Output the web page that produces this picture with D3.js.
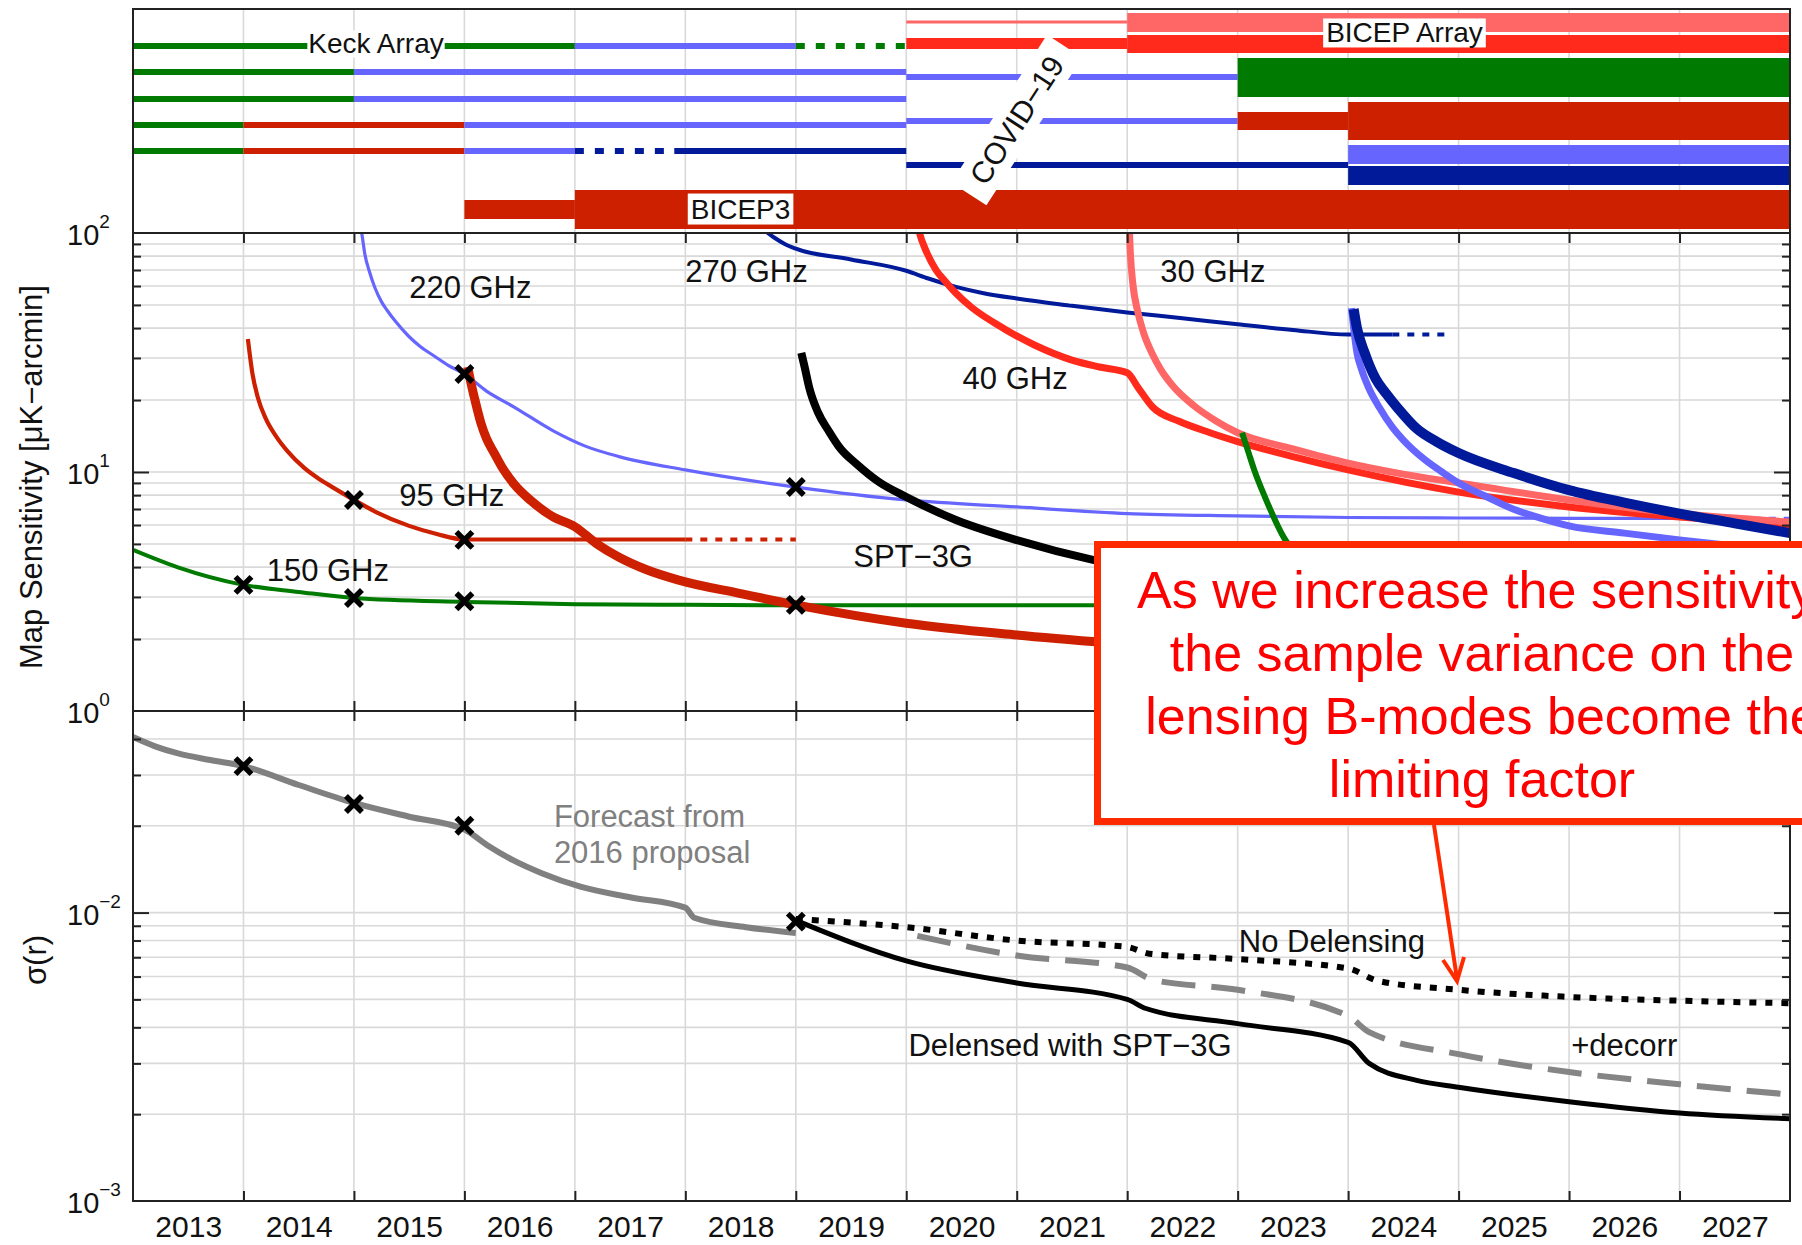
<!DOCTYPE html>
<html>
<head>
<meta charset="utf-8">
<script src="https://cdn.jsdelivr.net/npm/d3@7"></script>
<style>
  html, body { margin: 0; padding: 0; background: #fff; }
  svg { display: block; font-family: "Liberation Sans", Arial, Helvetica, sans-serif; }
</style>
</head>
<body>
<svg id="chart" width="1802" height="1245"></svg>
<script>
// ---------------------------------------------------------------------------
// Data
// ---------------------------------------------------------------------------
const yearLabels = ["2013","2014","2015","2016","2017","2018","2019","2020",
                    "2021","2022","2023","2024","2025","2026","2027"];
const yearBoundaries = [2014,2015,2016,2017,2018,2019,2020,2021,2022,2023,2024,2025,2026,2027];

// Receiver timeline: [slot, band (GHz), start, end, planned?]
const receivers = [
  ["K0","150",2013,2017], ["K0","220",2017,2019], ["K0","150",2019,2020,true],
  ["K1","150",2013,2015], ["K1","220",2015,2020],
  ["K2","150",2013,2015], ["K2","220",2015,2020],
  ["K3","150",2013,2014], ["K3","95",2014,2016], ["K3","220",2016,2020],
  ["K4","150",2013,2014], ["K4","95",2014,2016], ["K4","220",2016,2017],
  ["K4","270",2017,2017.9,true], ["K4","270",2017.9,2020],
  ["K1b","220",2020,2023], ["K3b","220",2020,2023], ["K4b","270",2020,2024],
  ["BA1a","30",2020,2022], ["BA1b","40",2020,2022],
  ["BA1hi","30",2022,2028], ["BA1lo","40",2022,2028],
  ["BA2","150",2023,2028],
  ["BA3a","95",2023,2024], ["BA3","95",2024,2028],
  ["BA4hi","220",2024,2028], ["BA4lo","270",2024,2028],
  ["B3a","95",2016,2017], ["B3","95",2017,2028]
];

// Map sensitivity [μK-arcmin] vs year
const keck150 = [[2013,4.72],[2013.4,4.0],[2014,3.37],[2014.5,3.15],[2015,2.97],[2016,2.86],
                 [2017,2.8],[2018,2.78],[2019,2.77],[2020,2.77],[2021,2.77],[2022,2.77]];
const keck95 = [[2014.04,36],[2014.08,26],[2014.13,20.5],[2014.2,16.8],[2014.3,14],[2014.4,12.2],
                [2014.55,10.4],[2014.7,9.25],[2014.85,8.4],[2015,7.64],[2015.2,6.8],[2015.5,5.95],
                [2015.75,5.5],[2016,5.22],[2018,5.22]];
const keck95Planned = [[2018,5.22],[2019,5.22]];
const keck220 = [[2015.05,110],[2015.07,100],[2015.1,81],[2015.14,69],[2015.19,59],[2015.25,51.5],
                 [2015.3,47.5],[2015.37,43],[2015.5,36.8],[2015.6,33.5],[2015.73,30.5],[2015.85,28],
                 [2016,25.7],[2016.2,21.8],[2016.45,18.7],[2016.8,14.9],[2017.1,12.8],[2017.4,11.6],
                 [2018,10.2],[2019,8.65],[2020,7.64],[2021,7.14],[2022,6.7],[2023,6.55],[2024,6.45],
                 [2025,6.42],[2026,6.4],[2027,6.4],[2027.4,6.4]];
const keck220Planned = [[2027.4,6.4],[2028,6.4]];
const bicep3 = [[2016.03,27.5],[2016.06,23.5],[2016.09,20.5],[2016.15,16],[2016.2,13.8],[2016.27,12],
                [2016.35,10.3],[2016.45,8.9],[2016.6,7.6],[2016.8,6.5],[2017,5.9],[2017.2,5.0],
                [2017.4,4.4],[2017.65,3.9],[2017.94,3.53],[2018.5,3.1],[2019,2.78],[2020,2.33],
                [2021,2.08],[2022,1.9],[2023,1.75]];
const keck270 = [[2018.7,104],[2018.8,96],[2018.9,90],[2019,86],[2019.5,77.5],[2020,69.5],[2020.2,64.5],
                 [2020.45,59.5],[2020.7,56],[2021,53.2],[2021.5,49.6],[2022,46.5],[2022.5,44],
                 [2023,41.5],[2023.5,39.3],[2024,37.6],[2024.4,37.6]];
const keck270Planned = [[2024.4,37.6],[2024.9,37.6]];
const spt3g = [[2019.05,31.5],[2019.08,27.5],[2019.12,22.7],[2019.2,17.8],[2019.3,14.8],[2019.4,12.6],
               [2019.55,10.8],[2019.75,9.1],[2020,7.86],[2020.45,6.3],[2021,5.19],[2021.7,4.28],
               [2022.5,3.7],[2023,3.4]];
const ba40 = [[2020.1,110],[2020.12,100],[2020.18,84],[2020.27,70],[2020.35,63],[2020.45,56],[2020.6,48.5],
              [2020.8,42],[2021.16,34],[2021.5,29.4],[2021.75,27.5],[2022,26],[2022.1,22.5],[2022.23,18.7],
              [2022.47,16.3],[2022.75,14.6],[2023,13.4],[2023.5,11.6],[2024,10.2],[2025,8.24],[2026,7.14],
              [2027,6.48],[2028,6.0]];
const ba30 = [[2022.01,140],[2022.03,80],[2022.05,62],[2022.1,46],[2022.15,38],[2022.23,31],[2022.3,27],
              [2022.41,23],[2022.6,19],[2022.8,16.4],[2023,14.6],[2023.5,12.5],[2024,10.9],[2024.5,9.8],
              [2025,9.0],[2026,7.64],[2027,6.7],[2028,6.18]];
const ba150 = [[2023.04,14.6],[2023.1,12],[2023.15,10.2],[2023.25,7.8],[2023.42,5.3],[2023.55,4.4]];
const ba220 = [[2024.03,48.5],[2024.05,40],[2024.08,31.5],[2024.12,27],[2024.19,22.3],[2024.28,18.7],
               [2024.4,15.4],[2024.5,13.6],[2024.69,11.3],[2024.85,10],[2025,9.0],[2025.25,7.9],
               [2025.51,6.95],[2025.75,6.4],[2026,5.95],[2026.5,5.55],[2027,5.2],[2027.5,4.9]];
const ba270 = [[2024.05,48],[2024.08,40],[2024.15,31.5],[2024.25,24.5],[2024.34,21.4],[2024.45,18.5],
               [2024.62,15.2],[2024.8,13.4],[2025,12],[2025.5,9.9],[2026,8.4],[2026.5,7.45],[2027,6.7],
               [2027.5,6.1],[2028,5.55]];
const mapMarks = [[2014,3.37],[2015,2.97],[2016,2.88],[2015,7.64],[2016,5.2],[2016,25.7],[2019,8.65],[2019,2.78]];

// σ(r) vs year
const forecast = [[2013,0.0406],[2013.2,0.0377],[2013.4,0.0357],[2013.7,0.0338],[2014,0.0322],
                  [2014.5,0.0277],[2015,0.024],[2015.5,0.0215],[2016,0.0194],[2016.2,0.0172],
                  [2016.44,0.0152],[2016.7,0.0137],[2017.05,0.0123],[2017.5,0.0113],[2018,0.0104],
                  [2018.08,0.0096],[2018.55,0.0089],[2019,0.0085]];
const noDelensing = [[2019,0.0095],[2020,0.0089],[2021,0.0080],[2022,0.0076],[2022.2,0.0072],[2023,0.0069],
                     [2024,0.0064],[2024.27,0.0058],[2025,0.0054],[2026,0.0051],[2027,0.00495],[2028,0.00485]];
const delensedSPT = [[2019,0.0094],[2020,0.0068],[2021,0.0057],[2022,0.0050],[2022.17,0.00465],[2023,0.00412],
                     [2024,0.00355],[2024.19,0.0030],[2024.62,0.00262],[2025,0.00248],[2026,0.00221],
                     [2027,0.00202],[2028,0.00193]];
const decorr = [[2020.1,0.0083],[2021,0.0071],[2022,0.00645],[2022.23,0.00585],[2023,0.0054],[2024,0.00438],
                [2024.19,0.00385],[2025,0.00323],[2026,0.0028],[2027,0.00254],[2028,0.00234]];
const sigmaMarks = [[2014,0.0322],[2015,0.0238],[2016,0.0200],[2019,0.0093]];

// Axis tick values and labels
const mapDecades = [100, 10, 1];
const mapExponents = ["2", "1", "0"];
const mapMinor = [2,3,4,5,6,7,8,9,20,30,40,50,60,70,80,90];
const sigDecades = [0.01, 0.001];
const sigExponents = ["\u22122", "\u22123"];
const sigMinor = [0.002,0.003,0.004,0.005,0.006,0.007,0.008,0.009,0.02,0.03,0.04];

const calloutLines = ["As we increase the sensitivity,", "the sample variance on the",
                      "lensing B-modes become the", "limiting factor"];

// ---------------------------------------------------------------------------
// Layout and styles
// ---------------------------------------------------------------------------
const L = 133, R = 1790;
const TOP = 9, MID_TOP = 233, MID_BOT = 711, BOT_BOT = 1201;

const x = d3.scaleLinear().domain([2013, 2028]).range([L, R]);
const yTop = d3.scaleLinear().domain([0, 100]).range([TOP, MID_TOP]);
const yMap = d3.scaleLog().domain([1, 100]).range([MID_BOT, MID_TOP]);
const ySig = d3.scaleLog().domain([0.001, 0.05]).range([BOT_BOT, MID_BOT]);

const bandColor = { "30": "#ff6666", "40": "#ff2a1c", "95": "#cc2000",
                    "150": "#007a00", "220": "#6666ff", "270": "#001a99" };

// receiver slots in the timeline panel: [centre %, thickness %]
const slots = {
  K0: [16.5, 2.7], K1: [28.1, 2.7], K2: [40.2, 2.7], K3: [51.8, 2.7], K4: [63.4, 2.7],
  K1b: [30.4, 2.7], K3b: [50.0, 2.7], K4b: [69.6, 2.7],
  BA1a: [5.8, 1.3], BA1b: [15.4, 4.9],
  BA1hi: [6.05, 8.5], BA1lo: [15.6, 8.0],
  BA2: [30.6, 17.4],
  BA3a: [50.0, 8.0], BA3: [50.0, 17.0],
  BA4hi: [64.95, 8.5], BA4lo: [74.35, 8.5],
  B3a: [89.55, 8.5], B3: [89.5, 17.4]
};

const FONT = "Liberation Sans, Arial, Helvetica, sans-serif";
const svg = d3.select("#chart");

// ---------------------------------------------------------------------------
// Grid
// ---------------------------------------------------------------------------
const grid = svg.append("g").attr("stroke", "#d9d9d9").attr("stroke-width", 1.6);
grid.selectAll("line.v").data(yearBoundaries).join("line")
  .attr("x1", d => x(d)).attr("x2", d => x(d)).attr("y1", TOP).attr("y2", BOT_BOT);
grid.selectAll("line.hm").data(mapMinor.concat([10])).join("line")
  .attr("x1", L).attr("x2", R).attr("y1", d => yMap(d)).attr("y2", d => yMap(d));
grid.selectAll("line.hs").data(sigMinor.concat([0.01])).join("line")
  .attr("x1", L).attr("x2", R).attr("y1", d => ySig(d)).attr("y2", d => ySig(d));

// ---------------------------------------------------------------------------
// Receiver timeline
// ---------------------------------------------------------------------------
const tl = svg.append("g");
tl.selectAll("line").data(receivers).join("line")
  .attr("x1", d => x(d[2])).attr("x2", d => x(d[3]))
  .attr("y1", d => yTop(slots[d[0]][0])).attr("y2", d => yTop(slots[d[0]][0]))
  .attr("stroke", d => bandColor[d[1]])
  .attr("stroke-width", d => yTop(slots[d[0]][1]) - yTop(0))
  .attr("stroke-dasharray", d => d[4] ? "9,11" : null);

function boxedText(g, str, cx, cy, size, padX, padY) {
  const t = g.append("text").attr("x", cx).attr("y", cy)
    .attr("text-anchor", "middle").attr("dominant-baseline", "central")
    .attr("font-size", size).attr("fill", "#111").text(str);
  const bb = t.node().getBBox();
  g.insert("rect", () => t.node())
    .attr("x", bb.x - padX).attr("y", bb.y - padY)
    .attr("width", bb.width + 2 * padX).attr("height", bb.height + 2 * padY)
    .attr("fill", "#fff");
  return t;
}
boxedText(tl, "Keck Array", x(2015.2), yTop(15.6), 28, 1, -2);
boxedText(tl, "BICEP3", x(2018.5), yTop(89.3), 28, 3, 0);
boxedText(tl, "BICEP Array", x(2024.51), yTop(10.7), 28, 3, -1);

// pandemic marker
const cov = tl.append("g").attr("transform", `translate(${x(2021.0)},${yTop(49.6)}) rotate(-57)`);
cov.append("rect").attr("x", -88).attr("y", -21).attr("width", 176).attr("height", 42).attr("fill", "#fff");
cov.append("text").attr("text-anchor", "middle").attr("dominant-baseline", "central")
  .attr("font-size", 30).attr("fill", "#111").text("COVID\u221219");

// ---------------------------------------------------------------------------
// Map sensitivity panel
// ---------------------------------------------------------------------------
svg.append("clipPath").attr("id", "clipMap").append("rect")
  .attr("x", L).attr("y", MID_TOP).attr("width", R - L).attr("height", MID_BOT - MID_TOP);
svg.append("clipPath").attr("id", "clipSig").append("rect")
  .attr("x", L).attr("y", MID_BOT).attr("width", R - L).attr("height", BOT_BOT - MID_BOT);

const lineMap = d3.line().x(d => x(d[0])).y(d => yMap(d[1])).curve(d3.curveMonotoneX);
const lineSig = d3.line().x(d => x(d[0])).y(d => ySig(d[1])).curve(d3.curveMonotoneX);

const mapSeries = [
  [keck150, bandColor["150"], 4, null],
  [keck95, bandColor["95"], 4.2, null],
  [keck95Planned, bandColor["95"], 4.2, "7,8"],
  [keck220, bandColor["220"], 3.2, null],
  [keck220Planned, bandColor["220"], 3.2, "7,8"],
  [bicep3, bandColor["95"], 9, null],
  [keck270, bandColor["270"], 4, null],
  [keck270Planned, bandColor["270"], 4, "7,8"],
  [spt3g, "#000", 8, null],
  [ba40, bandColor["40"], 7, null],
  [ba30, bandColor["30"], 7, null],
  [ba150, bandColor["150"], 6, null],
  [ba220, bandColor["220"], 7, null],
  [ba270, bandColor["270"], 10, null]
];
const gMap = svg.append("g").attr("clip-path", "url(#clipMap)").attr("fill", "none");
gMap.selectAll("path").data(mapSeries).join("path")
  .attr("d", d => lineMap(d[0])).attr("stroke", d => d[1]).attr("stroke-width", d => d[2])
  .attr("stroke-dasharray", d => d[3]).attr("stroke-linejoin", "round");

const xMark = "M-8,-8L8,8M-8,8L8,-8";
svg.append("g").selectAll("path").data(mapMarks).join("path")
  .attr("transform", d => `translate(${x(d[0])},${yMap(d[1])})`)
  .attr("d", xMark).attr("stroke", "#000").attr("stroke-width", 5.5).attr("fill", "none");

const mapNotes = [["220 GHz", 2015.5, 59.4], ["270 GHz", 2018.0, 68.7], ["30 GHz", 2022.3, 68.7],
                  ["40 GHz", 2020.51, 24.5], ["95 GHz", 2015.41, 7.94], ["150 GHz", 2014.21, 3.89],
                  ["SPT\u22123G", 2019.52, 4.45]];
svg.append("g").selectAll("text").data(mapNotes).join("text")
  .attr("x", d => x(d[1])).attr("y", d => yMap(d[2])).attr("dominant-baseline", "central")
  .attr("font-size", 31).attr("fill", "#111").text(d => d[0]);

// ---------------------------------------------------------------------------
// σ(r) panel
// ---------------------------------------------------------------------------
const sigSeries = [
  [forecast, "#808080", 6, null],
  [decorr, "#858585", 6, "34,16"],
  [noDelensing, "#000", 6, "7,9"],
  [delensedSPT, "#000", 5, null]
];
const gSig = svg.append("g").attr("clip-path", "url(#clipSig)").attr("fill", "none");
gSig.selectAll("path").data(sigSeries).join("path")
  .attr("d", d => lineSig(d[0])).attr("stroke", d => d[1]).attr("stroke-width", d => d[2])
  .attr("stroke-dasharray", d => d[3]).attr("stroke-linejoin", "round");

svg.append("g").selectAll("path").data(sigmaMarks).join("path")
  .attr("transform", d => `translate(${x(d[0])},${ySig(d[1])})`)
  .attr("d", xMark).attr("stroke", "#000").attr("stroke-width", 5.5).attr("fill", "none");

const sigNotes = [["Forecast from", 2016.81, 0.0216, "#808080"], ["2016 proposal", 2016.81, 0.0161, "#808080"],
                  ["No Delensing", 2023.01, 0.00791, "#111"], ["Delensed with SPT\u22123G", 2020.02, 0.00345, "#111"],
                  ["+decorr", 2026.02, 0.00345, "#111"]];
svg.append("g").selectAll("text").data(sigNotes).join("text")
  .attr("x", d => x(d[1])).attr("y", d => ySig(d[2])).attr("dominant-baseline", "central")
  .attr("font-size", 31).attr("fill", d => d[3]).text(d => d[0]);

// ---------------------------------------------------------------------------
// Axes, ticks and frames
// ---------------------------------------------------------------------------
function ticksOnly(axis, tx, ty) {
  const g = svg.append("g").attr("transform", `translate(${tx},${ty})`).call(axis);
  g.select(".domain").remove();
  g.selectAll(".tick text").remove();
  g.selectAll(".tick line").attr("stroke", "#222").attr("stroke-width", 2);
  return g;
}
// year ticks on top/bottom edges of both plotting panels (inward)
ticksOnly(d3.axisBottom(x).tickValues(yearBoundaries).tickSize(10), 0, MID_TOP);
ticksOnly(d3.axisTop(x).tickValues(yearBoundaries).tickSize(10), 0, MID_BOT);
ticksOnly(d3.axisBottom(x).tickValues(yearBoundaries).tickSize(10), 0, MID_BOT);
ticksOnly(d3.axisTop(x).tickValues(yearBoundaries).tickSize(10), 0, BOT_BOT);
// log ticks on left/right edges (inward)
ticksOnly(d3.axisRight(yMap).tickValues(mapMinor).tickSize(8), L, 0);
ticksOnly(d3.axisRight(yMap).tickValues([10]).tickSize(16), L, 0);
ticksOnly(d3.axisLeft(yMap).tickValues(mapMinor).tickSize(8), R, 0);
ticksOnly(d3.axisLeft(yMap).tickValues([10]).tickSize(16), R, 0);
ticksOnly(d3.axisRight(ySig).tickValues(sigMinor).tickSize(8), L, 0);
ticksOnly(d3.axisRight(ySig).tickValues([0.01]).tickSize(16), L, 0);
ticksOnly(d3.axisLeft(ySig).tickValues(sigMinor).tickSize(8), R, 0);
ticksOnly(d3.axisLeft(ySig).tickValues([0.01]).tickSize(16), R, 0);

// year labels centred in each season
const yearAxis = svg.append("g").attr("transform", `translate(0,${BOT_BOT})`)
  .call(d3.axisBottom(x).tickValues(yearLabels.map(s => +s + 0.5)).tickSize(0).tickPadding(15)
        .tickFormat((d, i) => yearLabels[i]));
yearAxis.select(".domain").remove();
yearAxis.selectAll("text").attr("font-size", 30).attr("font-family", FONT).attr("fill", "#111");

// decade labels 10^n
function decadeLabels(values, exps, scale) {
  const t = svg.append("g").selectAll("text").data(values).join("text")
    .attr("x", 67).attr("y", d => scale(d) + 12).attr("font-size", 29).attr("fill", "#111");
  t.append("tspan").text("10");
  t.append("tspan").attr("dy", -17).attr("font-size", 19).text((d, i) => exps[i]);
}
decadeLabels(mapDecades, mapExponents, yMap);
decadeLabels(sigDecades, sigExponents, ySig);

// panel frames
const frame = svg.append("g").attr("fill", "none").attr("stroke", "#222").attr("stroke-width", 2);
frame.append("rect").attr("x", L).attr("y", TOP).attr("width", R - L).attr("height", MID_TOP - TOP);
frame.append("rect").attr("x", L).attr("y", MID_TOP).attr("width", R - L).attr("height", MID_BOT - MID_TOP);
frame.append("rect").attr("x", L).attr("y", MID_BOT).attr("width", R - L).attr("height", BOT_BOT - MID_BOT);

// axis titles
svg.append("text").attr("transform", `translate(31,477) rotate(-90)`)
  .attr("text-anchor", "middle").attr("dominant-baseline", "central")
  .attr("font-size", 31).attr("fill", "#111").text("Map Sensitivity [\u03bcK\u2212arcmin]");
svg.append("text").attr("transform", `translate(35,960) rotate(-90)`)
  .attr("text-anchor", "middle").attr("dominant-baseline", "central")
  .attr("font-size", 31).attr("fill", "#111").text("\u03c3(r)");

// ---------------------------------------------------------------------------
// Callout
// ---------------------------------------------------------------------------
const callout = svg.append("g");
callout.append("rect").attr("x", 1097.5).attr("y", 544.5).attr("width", 800).attr("height", 277)
  .attr("fill", "#fff").attr("stroke", "#ff2a00").attr("stroke-width", 7);
callout.selectAll("text").data(calloutLines).join("text")
  .attr("x", 1482).attr("y", (d, i) => 608 + i * 63).attr("text-anchor", "middle")
  .attr("font-size", 52).attr("fill", "#ff0000").text(d => d);
const tip = [1457, 981];
callout.append("line").attr("x1", 1434).attr("y1", 825).attr("x2", tip[0]).attr("y2", tip[1] - 2)
  .attr("stroke", "#ff2a00").attr("stroke-width", 4);
callout.append("path")
  .attr("d", `M${tip[0] - 14},${tip[1] - 21}L${tip[0]},${tip[1]}L${tip[0] + 7},${tip[1] - 24}`)
  .attr("fill", "none").attr("stroke", "#ff2a00").attr("stroke-width", 4).attr("stroke-linejoin", "miter");
</script>
</body>
</html>
